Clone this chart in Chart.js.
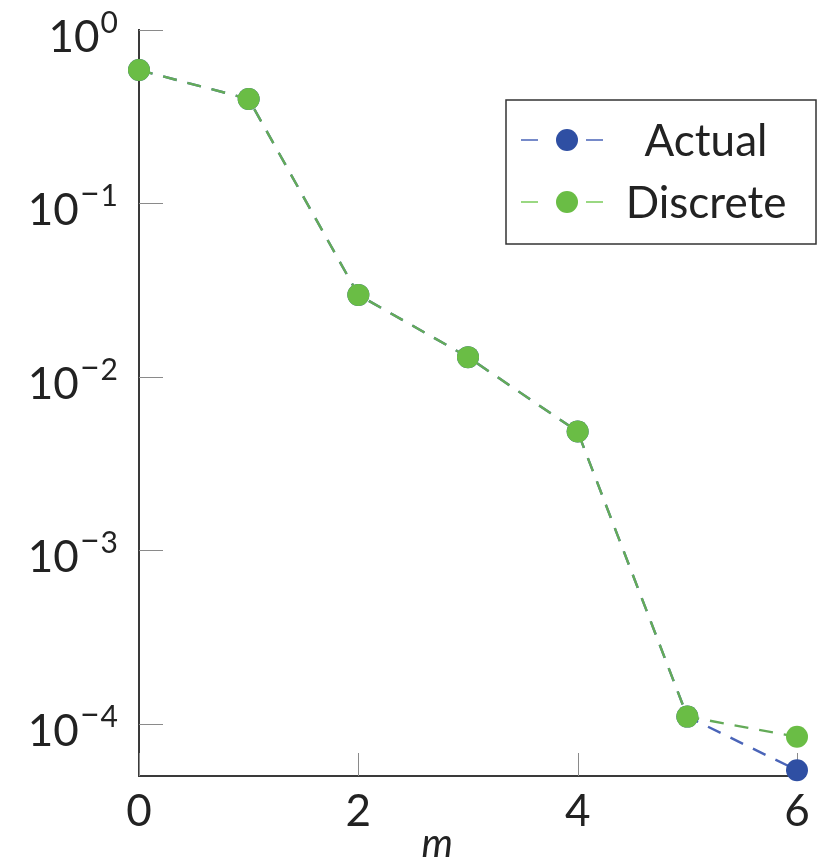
<html>
<head>
  <script src="https://cdn.jsdelivr.net/npm/chart.js@4.4.1/dist/chart.umd.min.js"></script>
  <style>
    body { margin: 0; background: #fff; }
  </style>
</head>
<body>

<canvas id="err-chart" width="823" height="863"></canvas>

<script>
// values per m (log scale)
var mValues = [0, 1, 2, 3, 4, 5, 6];
var actualErr = [0.588, 0.400, 0.0297, 0.0130, 0.00484, 1.10e-4, 5.40e-5];
var discreteErr = [0.588, 0.400, 0.0297, 0.0130, 0.00484, 1.10e-4, 8.41e-5];
var xTicks = [0, 2, 4, 6];
var yExponents = [0, -1, -2, -3, -4];
var seriesNames = ['Actual', 'Discrete'];

var FONT = 'Lato, "DejaVu Sans", sans-serif';
var TEXT = '#222';
var BLUE = '#2f4fa3';
var GREEN = '#6abd45';

function toPoints(ys){
  return mValues.map(function(m, i){ return {x: m, y: ys[i]}; });
}

// inward tick marks, tick labels, axis label and legend box
var axisDecor = {
  id: 'axisDecor',
  beforeDatasetsDraw: function(chart){
    var ctx = chart.ctx, xs = chart.scales.x, ys = chart.scales.y;
    ctx.save();
    ctx.strokeStyle = '#8a8a8a';
    ctx.lineWidth = 1;
    ctx.beginPath();
    yExponents.forEach(function(e){
      var py = Math.round(ys.getPixelForValue(Math.pow(10, e))) + 0.5;
      ctx.moveTo(xs.left, py);
      ctx.lineTo(xs.left + 24, py);
    });
    xTicks.forEach(function(t){
      var px = Math.round(xs.getPixelForValue(t)) + 0.5;
      ctx.moveTo(px, ys.bottom);
      ctx.lineTo(px, ys.bottom - 23);
    });
    ctx.stroke();
    ctx.restore();
  },
  afterDraw: function(chart){
    var ctx = chart.ctx, xs = chart.scales.x, ys = chart.scales.y;
    ctx.save();
    ctx.fillStyle = TEXT;
    ctx.textBaseline = 'alphabetic';

    // y labels: 10 with raised exponent
    yExponents.forEach(function(e){
      var py = ys.getPixelForValue(Math.pow(10, e));
      var right = 118;
      ctx.font = '30px ' + FONT;
      ctx.textAlign = 'right';
      var digitW = ctx.measureText(String(-e)).width;
      ctx.fillText(String(-e), right, py + 3);
      var left = right - digitW;
      if (e !== 0) {
        // wide minus sign of the exponent
        ctx.font = '34px ' + FONT;
        var minusW = ctx.measureText('\u2212').width;
        ctx.fillText('\u2212', left - 1, py + 3);
        left -= minusW + 1;
      }
      ctx.font = '44px ' + FONT;
      ctx.fillText('10', left - 1, py + 22);
    });

    // x labels
    ctx.font = '44px ' + FONT;
    ctx.textAlign = 'center';
    xTicks.forEach(function(t){
      ctx.fillText(String(t), xs.getPixelForValue(t), 826);
    });
    ctx.font = 'italic 40px ' + FONT;
    ctx.fillText('m', xs.getPixelForValue(2.72), 857);

    // legend
    var bx = 506, by = 100, bw = 310, bh = 144;
    ctx.fillStyle = '#fff';
    ctx.fillRect(bx, by, bw, bh);
    ctx.strokeStyle = '#333';
    ctx.lineWidth = 1.5;
    ctx.strokeRect(bx, by, bw, bh);
    var rows = [
      {name: seriesNames[0], line: '#4a64b8', dot: BLUE, y: 140},
      {name: seriesNames[1], line: '#7acc5a', dot: GREEN, y: 202}
    ];
    rows.forEach(function(r){
      ctx.strokeStyle = r.line;
      ctx.lineWidth = 1.5;
      ctx.beginPath();
      ctx.moveTo(521, r.y); ctx.lineTo(538, r.y);
      ctx.moveTo(586, r.y); ctx.lineTo(603, r.y);
      ctx.stroke();
      ctx.fillStyle = r.dot;
      ctx.beginPath();
      ctx.arc(567, r.y, 11, 0, Math.PI * 2);
      ctx.fill();
      ctx.fillStyle = TEXT;
      ctx.font = '44px ' + FONT;
      ctx.textAlign = 'center';
      ctx.fillText(r.name, 706, r.y + 16);
    });
    ctx.restore();
  }
};

var errChart = new Chart(document.getElementById('err-chart'), {
  type: 'line',
  data: {
    datasets: [
      {
        label: seriesNames[0],
        data: toPoints(actualErr),
        borderColor: '#4a64b8',
        backgroundColor: BLUE,
        pointBackgroundColor: BLUE,
        borderWidth: 2.4,
        borderDash: [14, 11],
        pointRadius: 11,
        pointBorderWidth: 0,
        pointHoverRadius: 11,
        tension: 0,
        clip: false,
        order: 1
      },
      {
        label: seriesNames[1],
        data: toPoints(discreteErr),
        borderColor: '#64ab58',
        backgroundColor: GREEN,
        pointBackgroundColor: GREEN,
        borderWidth: 2.4,
        borderDash: [14, 11],
        pointRadius: 11,
        pointBorderWidth: 0,
        pointHoverRadius: 11,
        tension: 0,
        clip: false,
        order: 0
      }
    ]
  },
  options: {
    responsive: false,
    animation: false,
    layout: { padding: { top: 30, right: 26, left: 0, bottom: 0 } },
    plugins: {
      legend: { display: false },
      tooltip: { enabled: false }
    },
    scales: {
      x: {
        type: 'linear',
        min: 0,
        max: 6,
        ticks: { display: false, stepSize: 2 },
        grid: { drawOnChartArea: false, drawTicks: false },
        border: { display: true, color: '#3a3a3a', width: 2 },
        afterFit: function(scale){ scale.height = 87; }
      },
      y: {
        type: 'logarithmic',
        min: 5e-5,
        max: 1,
        ticks: { display: false },
        grid: { drawOnChartArea: false, drawTicks: false },
        border: { display: true, color: '#3a3a3a', width: 2 },
        afterFit: function(scale){ scale.width = 139; }
      }
    }
  },
  plugins: [axisDecor]
});
</script>
</body>
</html>
